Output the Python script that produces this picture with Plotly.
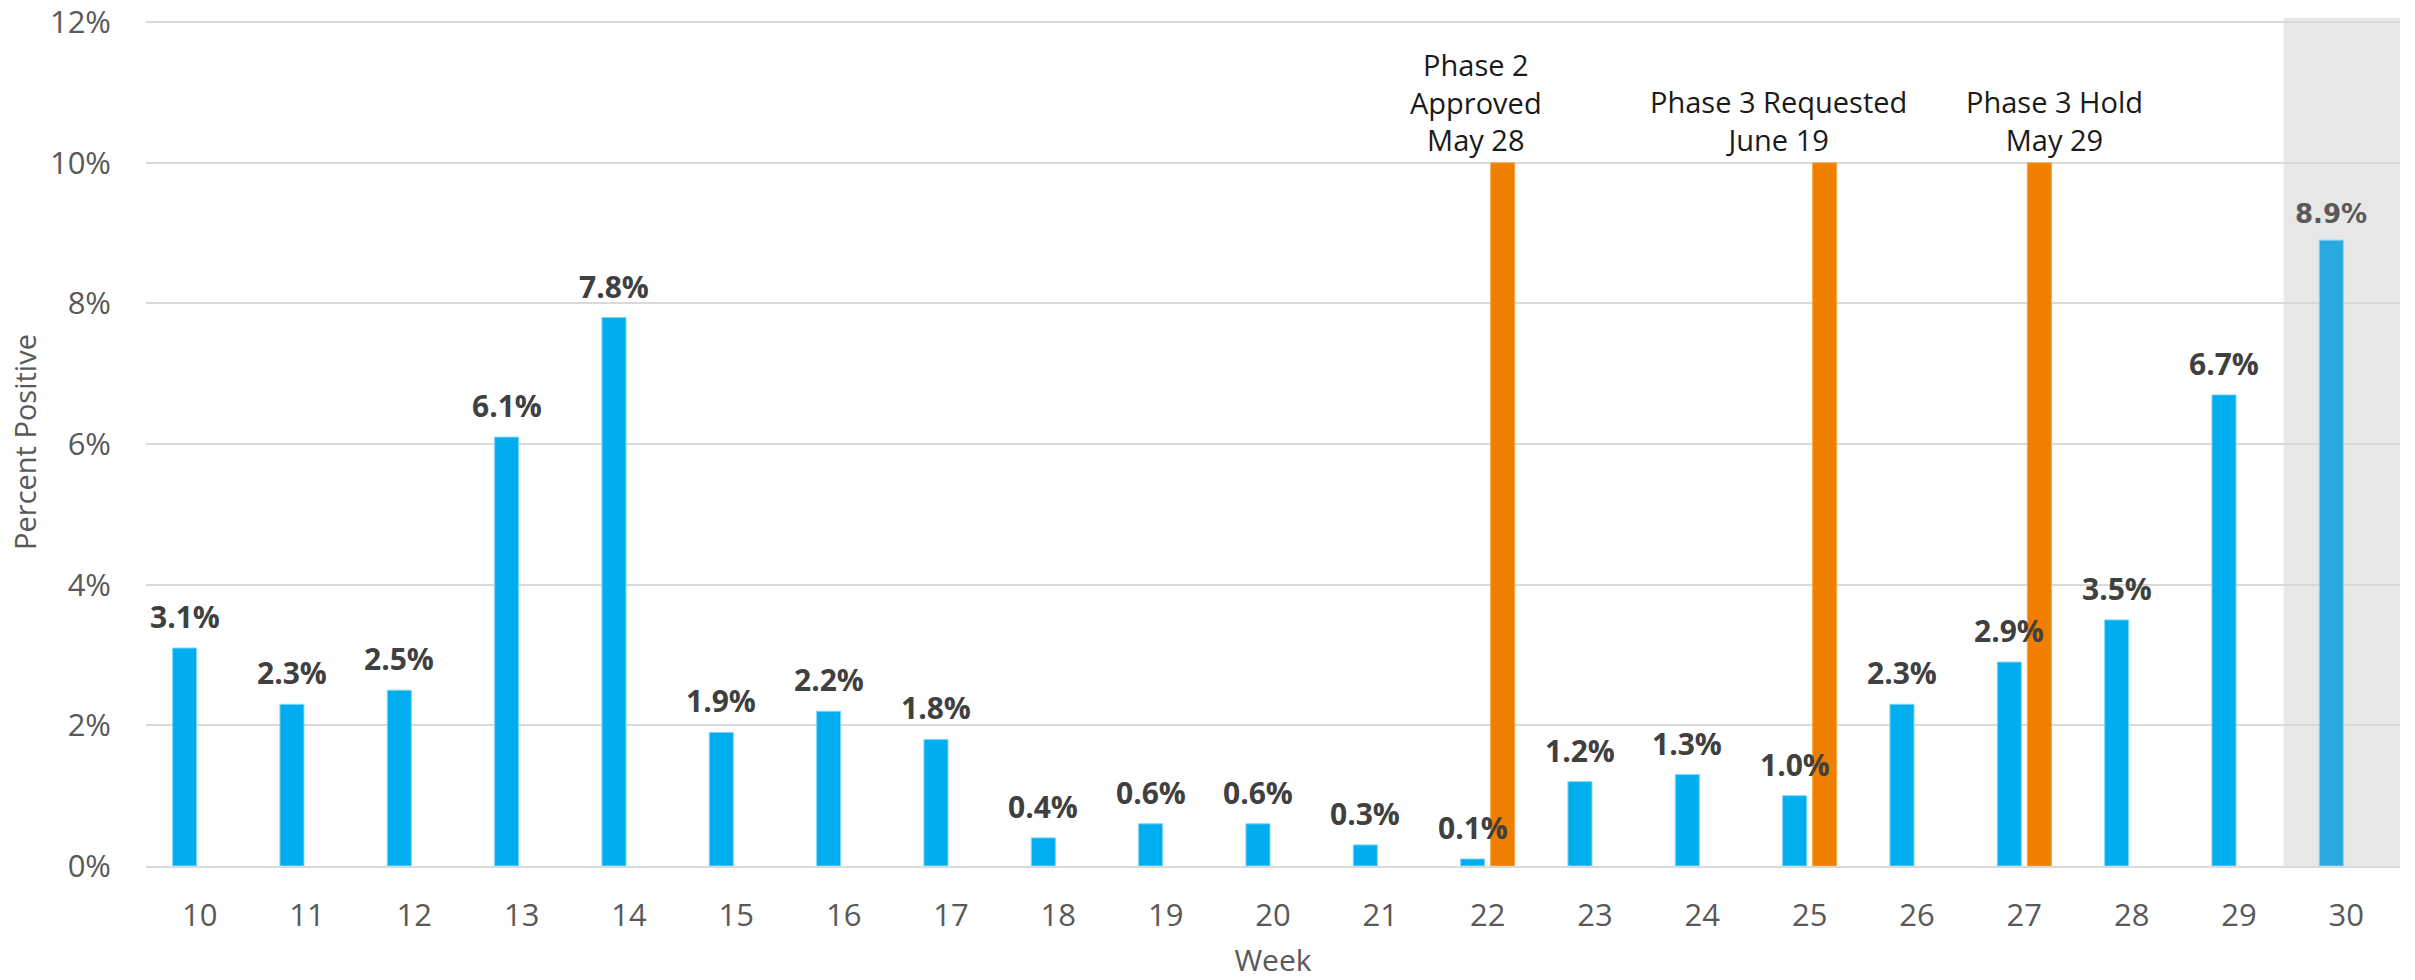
import plotly.graph_objects as go

# Weekly percent positive
weeks = [10, 11, 12, 13, 14, 15, 16, 17, 18, 19, 20, 21, 22, 23, 24, 25, 26, 27, 28, 29, 30]
pct_positive = [3.1, 2.3, 2.5, 6.1, 7.8, 1.9, 2.2, 1.8, 0.4, 0.6, 0.6, 0.3, 0.1,
                1.2, 1.3, 1.0, 2.3, 2.9, 3.5, 6.7, 8.9]

# Phase milestones (marker bars reaching the 10% line)
phase_weeks = [22, 25, 27]
phase_height = [10, 10, 10]
phase_labels = ["Phase 2<br>Approved<br>May 28",
                "Phase 3 Requested<br>June 19",
                "Phase 3 Hold<br>May 29"]
phase_label_x = [21.89, 24.71, 27.28]

y_ticks = [0, 2, 4, 6, 8, 10, 12]

BLUE = "#00AEEF"
BLUE_LAST = "#29A9DD"
ORANGE = "#F07F00"
GRID = "#D9D9D9"
AXIS_TXT = "#595959"
BAR_W = 0.224
BLUE_OFF = -0.252          # left edge of blue bar relative to week
ORANGE_OFF = 0.028         # left edge of orange bar relative to week

last = weeks[-1]
bar_colors = [BLUE_LAST if w == last else BLUE for w in weeks]

fig = go.Figure()

# highlighted current week background
fig.add_shape(type="rect", xref="x", yref="paper", x0=last - 0.58, x1=last + 0.5,
              y0=0, y1=1.0, fillcolor="#E7E7E7", line_width=0, layer="below")
for i, op in enumerate([0.10, 0.06, 0.03]):
    fig.add_shape(type="rect", xref="x", yref="paper",
                  x0=last - 0.58 - 0.012 * (i + 1), x1=last - 0.58 - 0.012 * i,
                  y0=0, y1=1.0, fillcolor=f"rgba(200,200,200,{op})",
                  line_width=0, layer="below")

fig.add_trace(go.Bar(
    x=phase_weeks, y=phase_height, width=BAR_W, offset=ORANGE_OFF,
    marker=dict(color=ORANGE, line=dict(color="#F5A64D", width=1)),
    hoverinfo="skip", showlegend=False,
))

fig.add_trace(go.Bar(
    x=weeks, y=pct_positive, width=BAR_W, offset=BLUE_OFF,
    marker=dict(color=bar_colors, line=dict(color="#7FD4F5", width=1)),
    showlegend=False,
))

# value labels above the blue bars
for w, v in zip(weeks, pct_positive):
    if w == last:
        fnt = dict(family="DejaVu Sans", size=26, color=AXIS_TXT, weight="bold")
    else:
        fnt = dict(family="Open Sans", size=30, color="#404040", weight="bold")
    fig.add_annotation(x=w + BLUE_OFF + BAR_W / 2, y=v, xref="x", yref="y",
                       text=f"{v:.1f}%", showarrow=False, yanchor="bottom",
                       yshift=9, font=fnt)

for xl, txt in zip(phase_label_x, phase_labels):
    fig.add_annotation(x=xl, y=10, xref="x", yref="y", text=txt, showarrow=False,
                       yanchor="bottom", yshift=2,
                       font=dict(family="Open Sans", size=29, color="#1A1A1A"))

fig.update_layout(
    width=2415, height=980,
    margin=dict(l=146, r=15, t=18, b=114),
    paper_bgcolor="white", plot_bgcolor="rgba(0,0,0,0)",
    barmode="overlay",
    font=dict(family="Open Sans", color=AXIS_TXT),
)

fig.update_xaxes(
    range=[9.5, 30.5], tickmode="array", tickvals=weeks,
    ticktext=[str(w) for w in weeks], automargin=False,
    tickfont=dict(size=31, color=AXIS_TXT), ticks="", ticklabelstandoff=21,
    showgrid=False, showline=True, linecolor=GRID, linewidth=2,
    title=dict(text="Week", font=dict(size=30, color=AXIS_TXT), standoff=16),
)
fig.update_yaxes(
    range=[0, 12.06], tickmode="array", tickvals=y_ticks,
    ticktext=[f"{t}%" for t in y_ticks], automargin=False,
    tickfont=dict(size=31, color=AXIS_TXT), ticks="", ticklabelstandoff=34,
    showgrid=True, gridcolor=GRID, gridwidth=2, zeroline=False,
    title=dict(text="Percent Positive", font=dict(size=29, color=AXIS_TXT), standoff=4),
)

fig.write_html("out.html")
